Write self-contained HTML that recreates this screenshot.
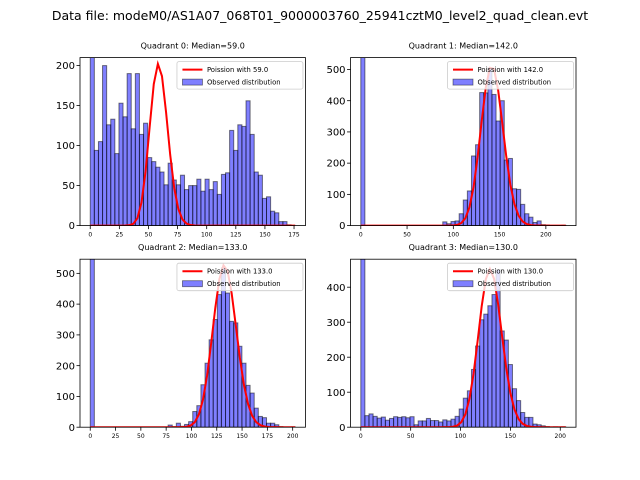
<!DOCTYPE html>
<html><head><meta charset="utf-8"><style>
html,body{margin:0;padding:0;background:#fff;}
svg{display:block;font-family:"DejaVu Sans","Liberation Sans",sans-serif;}
</style></head><body>
<svg id="fig" width="640" height="480" viewBox="0 0 640 480" xmlns="http://www.w3.org/2000/svg">
<rect width="640" height="480" fill="#fff"/>
<text x="320" y="20" font-size="12.5" text-anchor="middle">Data file: modeM0/AS1A07_068T01_9000003760_25941cztM0_level2_quad_clean.evt</text>
</svg>
<script>
const panelTitles = ["Quadrant 0: Median=59.0","Quadrant 1: Median=142.0","Quadrant 2: Median=133.0","Quadrant 3: Median=130.0"];
const q0Counts = [3000,94,105,200,126,133,90,153,136,190,121,190,114,128,85,80,73,67,51,78,57,51,63,45,50,50,58,43,58,45,55,39,64,66,119,94,126,124,156,114,67,63,34,36,18,16,5,5,1,0];
const q1Counts = [3000,0,0,0,0,0,0,0,0,0,0,0,0,0,0,0,0,0,0,0,12,6,13,15,38,82,111,223,259,426,425,505,420,335,400,210,215,118,116,68,38,27,10,15,3,2,0,0,0,1];
const q2Counts = [3000,0,0,0,0,0,0,0,0,0,0,0,0,0,0,0,0,0,0,7,2,13,3,9,18,51,70,138,208,284,350,431,518,436,344,339,263,208,136,111,62,35,31,13,13,8,2,0,0,1];
const q3Counts = [3000,33,38,31,26,29,20,25,30,28,30,27,30,7,18,18,25,19,19,15,21,18,23,31,52,83,104,165,232,307,323,347,379,450,275,249,179,110,76,42,28,28,9,7,4,2,0,1,0,1];
const dataMax = [176,221.5,202.5,205.5];
const poissonLambda = [59,142,133,130];
const poissonPeak = [202,512,527,452];
const yLimits = [210,538,546,480];
const yTicks = [[0,50,100,150,200],[0,100,200,300,400,500],[0,100,200,300,400,500],[0,100,200,300,400]];
const xTicks = [[0,25,50,75,100,125,150,175],[0,50,100,150,200],[0,25,50,75,100,125,150,175,200],[0,50,100,150,200]];

const NS="http://www.w3.org/2000/svg";
const svg=document.getElementById('fig');
function mk(tag,attrs,parent){const e=document.createElementNS(NS,tag);for(const k in attrs)e.setAttribute(k,attrs[k]);(parent||svg).appendChild(e);return e;}
function lgamma(z){ // Lanczos
  const g=7,c=[0.99999999999980993,676.5203681218851,-1259.1392167224028,771.32342877765313,-176.61502916214059,12.507343278686905,-0.13857109526572012,9.9843695780195716e-6,1.5056327351493116e-7];
  if(z<0.5)return Math.log(Math.PI/Math.abs(Math.sin(Math.PI*z)))-lgamma(1-z);
  z-=1;let x=c[0];for(let i=1;i<g+2;i++)x+=c[i]/(z+i);const t=z+g+0.5;
  return 0.5*Math.log(2*Math.PI)+(z+0.5)*Math.log(t)-t+Math.log(x);
}
const allCounts=[q0Counts,q1Counts,q2Counts,q3Counts];
const W=225.45,H=168;
const lefts=[80,350.55,80,350.55], tops=[57.6,57.6,259.2,259.2];
for(let p=0;p<4;p++){
  const L=lefts[p],T=tops[p],B=T+H,R=L+W;
  const counts=allCounts[p], n=counts.length, bw=dataMax[p]/n;
  const m=dataMax[p]*0.05, x0=-m, x1=dataMax[p]+m, ymax=yLimits[p];
  const xs=v=>L+(v-x0)/(x1-x0)*W;
  const ys=v=>B-v/ymax*H;
  const g=mk('g',{});
  
  
  const cp=mk('clipPath',{id:'cp'+p},g);mk('rect',{x:L,y:T,width:W,height:H},cp);
  const bars=mk('g',{'clip-path':'url(#cp'+p+')'},g);
  for(let i=0;i<n;i++){
    if(counts[i]<=0)continue;
    const r=mk('rect',{x:xs(i*bw),y:ys(counts[i]),width:xs((i+1)*bw)-xs(i*bw),height:B-ys(counts[i]),fill:'rgba(0,0,255,0.5)',stroke:'rgba(0,0,0,0.5)','stroke-width':1},bars);
    
    
  }
  // poisson curve
  const lam=poissonLambda[p], lp0=lam*Math.log(lam)-lam-lgamma(lam+1);
  let pts=[];
  const xsamp=[0];for(let i=0;i<n;i++)xsamp.push((i+0.5)*bw);xsamp.push(dataMax[p]);
  for(const x of xsamp){const lp=x*Math.log(lam)-lam-lgamma(x+1);pts.push(xs(x).toFixed(2)+','+ys(poissonPeak[p]*Math.exp(lp-lp0)).toFixed(2));}
  const pl=mk('polyline',{points:pts.join(' '),fill:'none',stroke:'#ff0000','stroke-width':2,'clip-path':'url(#cp'+p+')'},g);
  
  
  const fr=mk('rect',{x:L,y:T,width:W,height:H,fill:'none',stroke:'#000','stroke-width':0.8},g);
  
  
  for(const t of xTicks[p]){
    mk('line',{x1:xs(t),x2:xs(t),y1:B,y2:B+3.5,stroke:'#000','stroke-width':0.8},g);
    const tx=mk('text',{x:xs(t),y:B+11,'font-size':6,'text-anchor':'middle'},g);tx.textContent=t;
    
    
  }
  for(const t of yTicks[p]){
    mk('line',{x1:L-3.5,x2:L,y1:ys(t),y2:ys(t),stroke:'#000','stroke-width':0.8},g);
    const tx=mk('text',{x:L-5,y:ys(t)+3.6,'font-size':10,'text-anchor':'end'},g);tx.textContent=t;
    
    
  }
  const tt=mk('text',{x:L+W/2,y:T-9,'font-size':8,'text-anchor':'middle'},g);tt.textContent=panelTitles[p];
  
  
  // legend
  const lg=mk('g',{},g);
  
  
  const lx=R-128.5, ly=T+4;
  mk('rect',{x:lx,y:ly,width:126,height:27.5,rx:2,fill:'rgba(255,255,255,0.8)',stroke:'#ccc','stroke-width':0.8},lg);
  mk('line',{x1:lx+5.5,x2:lx+25.5,y1:ly+8,y2:ly+8,stroke:'#ff0000','stroke-width':2},lg);
  const t1=mk('text',{x:lx+30,y:ly+10.5,'font-size':6.8},lg);t1.textContent='Poission with '+poissonLambda[p].toFixed(1);
  
  
  mk('rect',{x:lx+5.5,y:ly+17.5,width:20,height:6,fill:'rgba(0,0,255,0.5)',stroke:'rgba(0,0,0,0.5)','stroke-width':0.8},lg);
  const t2=mk('text',{x:lx+30,y:ly+23,'font-size':6.8},lg);t2.textContent='Observed distribution';
  
  
}
</script>
</body></html>
